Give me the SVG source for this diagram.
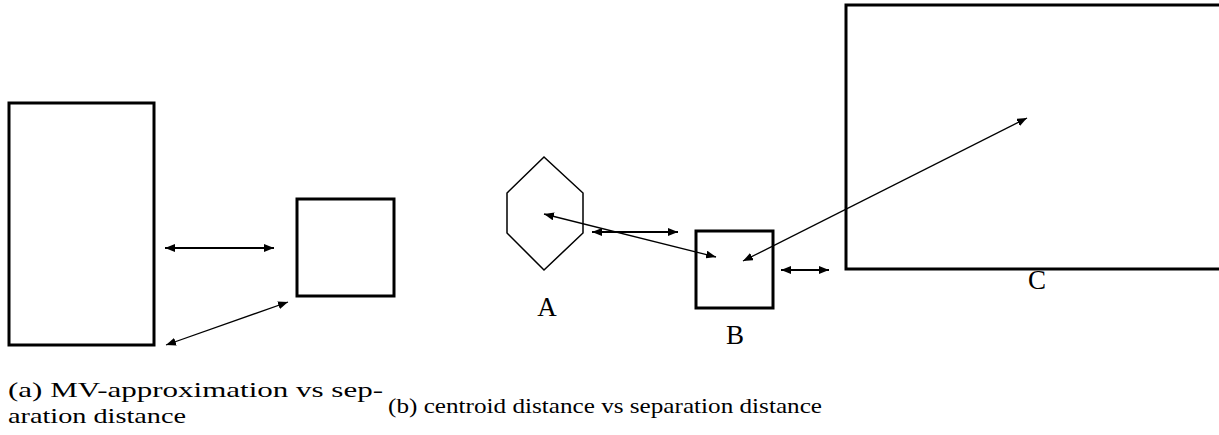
<svg xmlns="http://www.w3.org/2000/svg" width="1219" height="435" viewBox="0 0 1219 435">
<style>
.box{fill:none;stroke:#000;stroke-width:3}
.hex{fill:none;stroke:#000;stroke-width:1.5}
.thick{stroke:#000;stroke-width:2;fill:none}
.thin{stroke:#000;stroke-width:1.3;fill:none}
</style>
<defs>
<marker id="ah" viewBox="0 0 10 8" refX="10" refY="4" markerWidth="10" markerHeight="8" markerUnits="userSpaceOnUse" orient="auto-start-reverse">
<path d="M0,0 L10,4 L0,8 Z" fill="#000"/>
</marker>
</defs>
<rect width="1219" height="435" fill="#fff"/>
<g id="bigRect"><rect class="box" x="9" y="103" width="145" height="242"/></g>
<g id="smallSquare"><rect class="box" x="297" y="199" width="97" height="97"/></g>
<g font-family="'Liberation Serif', 'DejaVu Serif', serif" font-size="27" fill="#000" text-anchor="middle">
<g id="A"><polygon class="hex" points="544,157 583,193 583,233 544,270 507,233 507,193"/><text x="547" y="316">A</text></g>
<g id="B"><rect class="box" x="696" y="231" width="77" height="77"/><text x="735" y="344">B</text></g>
<g id="C"><rect class="box" x="846" y="5" width="376" height="264"/><text x="1037" y="289">C</text></g>
</g>
<g id="connectors">
<line class="thick" x1="165" y1="248" x2="274" y2="248" marker-start="url(#ah)" marker-end="url(#ah)"/>
<line class="thin" x1="166" y1="345" x2="288" y2="302" marker-start="url(#ah)" marker-end="url(#ah)"/>
<line class="thin" x1="544" y1="214" x2="716" y2="257" marker-start="url(#ah)" marker-end="url(#ah)"/>
<line class="thick" x1="592" y1="232" x2="678" y2="232" marker-start="url(#ah)" marker-end="url(#ah)"/>
<line class="thin" x1="743" y1="261" x2="1027" y2="118" marker-start="url(#ah)" marker-end="url(#ah)"/>
<line class="thick" x1="781" y1="270" x2="829" y2="270" marker-start="url(#ah)" marker-end="url(#ah)"/>
</g>
<g id="captions" font-family="'Liberation Serif', 'DejaVu Serif', serif" font-size="22" fill="#000">
<text x="8" y="397" textLength="375" lengthAdjust="spacingAndGlyphs">(a) MV-approximation vs sep-</text>
<text x="8" y="423" textLength="178" lengthAdjust="spacingAndGlyphs">aration distance</text>
<text x="388" y="413" textLength="434" lengthAdjust="spacingAndGlyphs">(b) centroid distance vs separation distance</text>
</g>
</svg>
